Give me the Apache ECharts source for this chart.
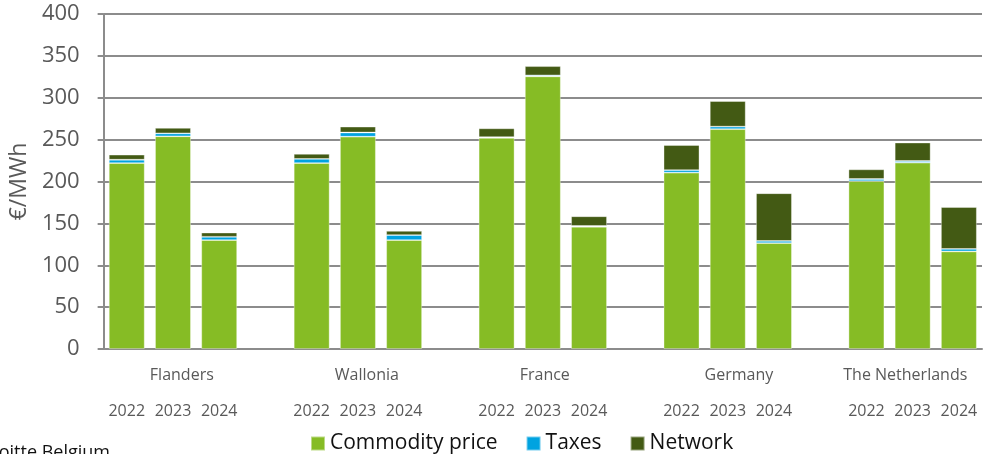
<!DOCTYPE html>
<html>
<head>
<meta charset="utf-8">
<script src="https://cdn.jsdelivr.net/npm/echarts@6/dist/echarts.min.js"></script>
<style>
html,body{margin:0;padding:0;background:#fff;}
#chart{width:985px;height:454px;}
</style>
</head>
<body>
<div id="chart"></div>
<script>
// ---- data ----
var countries = ['Flanders', 'Wallonia', 'France', 'Germany', 'The Netherlands'];
var years = ['2022', '2023', '2024'];
var yTicks = [0, 50, 100, 150, 200, 250, 300, 350, 400];
var commodity = [222, 254, 130, 222, 253.5, 130, 252, 325.5, 146, 210.5, 262.5, 126.5, 200.5, 222.5, 116.5];
var taxes = [4, 3.5, 4, 5, 5, 6, 1, 1.2, 1, 3, 3, 2.5, 2.5, 2, 3];
var network = [6, 6.5, 5, 6, 7, 5, 10.5, 11, 11.5, 30, 30.5, 57, 11.5, 22, 50];
var seriesNames = ['Commodity price', 'Taxes', 'Network'];
var sourceText = 'Deloitte Belgium';

// ---- build slots (3 years per country, empty slot between countries) ----
var slots = [];
function spread(arr) {
  var out = [];
  countries.forEach(function (c, ci) {
    years.forEach(function (y, yi) { out.push(arr[ci * 3 + yi]); });
    if (ci < countries.length - 1) out.push('-');
  });
  return out;
}
countries.forEach(function (c, ci) {
  years.forEach(function (y) { slots.push(y); });
  if (ci < countries.length - 1) slots.push('');
});
// country label axis: boundary points (2 per slot)
var nPts = slots.length * 2 + 1;
var countryPts = [];
for (var i = 0; i < nPts; i++) countryPts.push('');
var anchors = [2, 10, 18, 26, 32];
countries.forEach(function (c, ci) { countryPts[anchors[ci]] = c; });

var colors = ['#86BC25', '#00A3E0', '#435A14'];
var font = '"Open Sans", sans-serif';

var chart = echarts.init(document.getElementById('chart'));
var barStyle = function (i) {
  return { color: colors[i], borderColor: 'rgba(255,255,255,0.45)', borderWidth: 0.8 };
};
chart.setOption({
  animation: false,
  textStyle: { fontFamily: font },
  grid: { left: 101, right: 0, top: 14, bottom: 105, containLabel: false },
  legend: {
    left: 310, top: 433, padding: 0,
    itemWidth: 14, itemHeight: 14, itemGap: 28,
    icon: 'rect',
    textStyle: { fontSize: 21, color: '#111', fontFamily: font },
    data: seriesNames
  },
  xAxis: [{
    type: 'category',
    data: slots,
    axisLine: { show: true, lineStyle: { color: '#8c8c8c', width: 2 } },
    axisTick: { show: false },
    axisLabel: { interval: 0, margin: 54, fontSize: 16, color: '#595959', fontFamily: font }
  }, {
    type: 'category',
    data: countryPts,
    boundaryGap: false,
    position: 'bottom',
    axisLine: { show: false },
    axisTick: { show: false },
    axisLabel: { interval: 0, align: 'left', margin: 18, fontSize: 16, color: '#595959', fontFamily: font }
  }],
  yAxis: {
    type: 'value',
    min: yTicks[0], max: yTicks[yTicks.length - 1], interval: 50,
    name: '€/MWh',
    nameLocation: 'middle',
    nameGap: 68,
    nameTextStyle: { fontSize: 23, color: '#595959', fontFamily: font },
    axisLine: { show: true, lineStyle: { color: '#8c8c8c', width: 2 } },
    axisTick: { show: true, length: 6, lineStyle: { color: '#8c8c8c', width: 2 } },
    axisLabel: { fontSize: 22, color: '#595959', margin: 24, fontFamily: font },
    splitLine: { show: true, lineStyle: { color: '#8c8c8c', width: 2 } }
  },
  graphic: [{
    type: 'text', left: -29, top: 444,
    style: { text: sourceText, fontSize: 18, fill: '#111', fontFamily: font }
  }],
  series: [
    { name: seriesNames[0], type: 'bar', stack: 'a', barCategoryGap: '22.5%', data: spread(commodity), itemStyle: barStyle(0) },
    { name: seriesNames[1], type: 'bar', stack: 'a', data: spread(taxes), itemStyle: barStyle(1) },
    { name: seriesNames[2], type: 'bar', stack: 'a', data: spread(network), itemStyle: barStyle(2) }
  ]
});
</script>
</body>
</html>
